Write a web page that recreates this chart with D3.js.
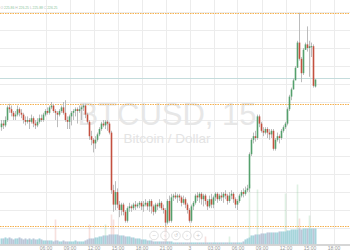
<!DOCTYPE html>
<html><head><meta charset="utf-8">
<script src="https://cdnjs.cloudflare.com/ajax/libs/d3/7.8.5/d3.min.js"></script>
<style>html,body{margin:0;padding:0;background:#fff;overflow:hidden}svg{display:block}</style>
</head><body><svg id="c" width="350" height="250"></svg>
<script>
// ---- DATA (BTCUSD, 15 min candles) ----
const open  = [223.6,223.8,223.7,224.0,224.7,224.6,224.4,224.2,224.3,224.6,224.4,224.3,224.0,223.9,224.0,223.9,224.1,223.8,223.7,223.9,
224.1,224.0,224.3,224.5,224.4,224.7,224.8,224.5,224.4,224.3,224.5,224.7,224.4,224.0,223.9,224.2,224.4,224.5,224.6,224.5,
224.6,224.7,224.8,224.3,223.9,223.1,222.9,222.7,222.9,223.2,223.5,223.8,223.7,223.9,223.8,223.3,220.1,219.3,220.0,219.3,
219.0,219.3,218.9,218.4,219.1,219.2,219.1,219.3,219.2,219.3,219.4,219.2,219.3,219.4,219.2,219.5,219.2,218.9,219.3,219.2,
219.4,219.1,219.0,218.3,219.5,218.4,219.7,219.8,219.7,219.8,219.7,219.4,219.6,219.3,219.0,218.4,219.2,219.4,219.8,219.7,
219.9,219.6,219.8,219.5,219.2,219.6,219.3,219.7,219.9,219.6,219.8,219.7,219.9,219.8,219.5,219.8,219.9,219.6,219.3,219.5,
219.8,220.0,219.9,220.1,220.2,222.1,222.9,223.1,223.0,224.2,223.8,223.4,223.3,223.5,223.3,223.2,223.4,222.4,222.9,223.1,
223.0,223.4,223.6,223.8,224.6,225.3,225.7,226.2,226.9,228.3,227.4,226.6,227.9,228.2,228.0,228.1,228.1,225.86];
const close = [223.8,223.7,224.0,224.7,224.6,224.4,224.2,224.3,224.6,224.4,224.3,224.0,223.9,224.0,223.9,224.1,223.8,223.7,223.9,224.1,
224.0,224.3,224.5,224.4,224.7,224.8,224.5,224.4,224.3,224.5,224.7,224.4,224.0,223.9,224.2,224.4,224.5,224.6,224.5,224.6,
224.7,224.8,224.3,223.9,223.1,222.9,222.7,222.9,223.2,223.5,223.8,223.7,223.9,223.8,223.3,220.1,219.3,220.0,219.3,219.0,
219.3,218.9,218.4,219.1,219.2,219.1,219.3,219.2,219.3,219.4,219.2,219.3,219.4,219.2,219.5,219.2,218.9,219.3,219.2,219.4,
219.1,219.0,218.3,219.5,218.4,219.7,219.8,219.7,219.8,219.7,219.4,219.6,219.3,219.0,218.4,219.2,219.4,219.8,219.7,219.9,
219.6,219.8,219.5,219.2,219.6,219.3,219.7,219.9,219.6,219.8,219.7,219.9,219.8,219.5,219.8,219.9,219.6,219.3,219.5,219.8,
220.0,219.9,220.1,220.2,222.1,222.9,223.1,223.0,224.2,223.8,223.4,223.3,223.5,223.3,223.2,223.4,222.4,222.9,223.1,223.0,
223.4,223.6,223.8,224.6,225.3,225.7,226.2,226.9,228.3,227.4,226.6,227.9,228.2,228.0,228.1,228.1,225.9,226.25];
const high  = [224.0,224.0,224.2,224.8,224.9,224.8,224.5,224.5,224.8,224.7,224.6,224.4,224.2,224.2,224.1,224.3,224.2,224.0,224.1,224.3,
224.3,224.4,224.6,224.7,224.8,225.0,224.9,224.6,224.5,224.6,224.8,225.0,225.1,224.2,224.3,224.5,224.6,224.7,224.7,224.8,
224.8,224.9,224.9,224.4,224.0,223.4,223.0,223.1,223.3,223.6,223.9,224.0,224.0,224.0,223.9,223.4,220.4,220.6,220.2,219.5,
219.4,219.4,219.0,219.2,219.4,219.3,219.4,219.5,219.4,219.5,219.5,219.5,219.6,219.5,219.6,219.6,219.3,219.4,219.4,219.6,
219.5,219.3,219.1,219.6,219.8,219.9,219.9,220.0,219.9,219.9,219.8,219.8,219.7,219.4,219.1,219.3,219.5,219.9,220.0,220.0,
220.0,219.9,219.9,219.6,219.8,219.9,219.8,220.0,220.0,219.9,220.0,220.0,220.1,219.9,220.0,220.1,220.0,219.7,219.6,219.9,
220.1,220.2,220.3,220.4,222.2,223.0,223.3,223.4,224.3,224.3,223.9,223.6,223.6,223.6,223.5,223.5,223.5,223.0,223.3,223.2,
223.5,223.7,223.9,224.7,225.4,225.8,226.3,227.0,228.4,229.95,227.5,228.0,228.3,229.2,228.4,228.3,228.2,226.25];
const low   = [223.4,223.5,223.6,223.9,224.4,224.2,224.0,224.0,224.2,224.2,224.1,223.8,223.7,223.8,223.5,223.8,223.6,223.5,223.6,223.8,
223.9,223.9,224.2,224.3,224.3,224.6,224.4,224.0,223.6,224.2,224.4,224.3,223.9,223.5,223.5,223.7,224.0,224.2,223.8,224.4,
224.0,224.5,224.1,223.8,222.9,222.6,222.2,222.4,222.8,223.1,223.4,223.6,223.5,223.4,223.2,219.9,218.9,219.0,219.1,218.6,
218.7,218.7,218.3,218.3,218.9,218.9,219.0,219.0,219.1,219.1,219.0,218.9,219.2,219.0,218.9,218.8,218.7,218.8,219.0,219.1,
219.0,218.8,218.1,218.2,218.3,218.3,219.5,219.6,219.4,219.5,219.2,219.3,219.1,218.8,218.3,218.3,219.0,219.3,219.5,219.4,
219.3,219.2,219.3,219.0,219.1,219.1,219.1,219.5,219.4,219.5,219.5,219.4,219.6,219.3,219.4,219.6,219.4,219.1,219.0,219.4,
219.7,219.7,219.8,220.0,220.0,222.0,222.7,222.8,222.9,223.6,223.3,223.1,223.2,223.0,222.9,223.0,222.3,222.3,222.8,222.7,
222.9,223.3,223.5,223.7,224.5,225.1,225.7,226.7,227.2,227.3,226.1,226.5,227.9,227.8,226.4,227.5,225.8,225.80];
// volume spikes (coloured by candle) and the blue volume average band
const volume = [6,6,7,6,7,6,5,6,6,7,6,5,6,5,6,5,6,5,5,6,
5,4,4,4,4,4,3,25,4,3,3,4,3,3,3,3,3,4,3,3,
3,3,4,5,20,6,6,7,7,8,8,9,20,9,10,30,25,10,10,9,
9,9,8,8,8,7,7,6,6,6,5,5,5,4,4,4,3,3,3,3,
3,3,18,3,3,3,2,2,2,2,2,2,2,2,2,2,2,2,2,2,
2,2,8,2,2,2,2,2,2,2,2,2,2,2,8,2,2,2,2,2,
2,3,5,6,60,9,9,10,55,10,11,11,11,12,12,12,12,12,12,13,
13,13,51,14,14,15,15,15,60,26,15,16,16,16,29,16,16,16];
const volumeAvg = [6,6,7,6,7,6,5,6,6,7,6,5,6,5,6,5,6,5,5,6,
5,4,4,4,4,4,3,4,4,3,3,4,3,3,3,3,3,4,3,3,
3,3,4,5,6,6,6,7,7,8,8,9,9,9,10,10,10,10,10,9,
9,9,8,8,8,7,7,6,6,6,5,5,5,4,4,4,3,3,3,3,
3,3,3,3,3,3,2,2,2,2,2,2,2,2,2,2,2,2,2,2,
2,2,2,2,2,2,2,2,2,2,2,2,2,2,2,2,2,2,2,2,
2,3,5,6,7,9,9,10,10,10,11,11,11,12,12,12,12,12,12,13,
13,13,13,14,14,15,15,15,15,16,15,16,16,16,16,16,16,16];
const firstCandle = new Date(2015, 6, 2, 0, 30);
const tickTimes = [[2,6],[2,9],[2,12],[2,15],[2,18],[2,21],[3,0],[3,3],[3,6],[3,9],[3,12],[3,15],[3,18]];
const tickLabels = ["06:00","09:00","12:00","15:00","18:00","21:00","3","03:00","06:00","09:00","12:00","15:00","18:00"];
const gridPrices = [218,219,220,221,222,223,224,225,226,227,228,229,230];
const levelPrices = [229.95, 224.9, 218.1];
const symbolTitle = "BTCUSD, 15";
const symbolDesc = "Bitcoin / Dollar";
const legendParts = [["O ","225.86"],[" H ","226.25"],[" L ","225.88"],[" C ","226.25"]];
const navIcons = ["\u2212","\u2039","\u21BA","\u203A","+"];

// ---- CHART ----
const svg = d3.select("#c");
const W = 350, H = 250, axisY = 244.5;
const x = d3.scaleTime()
  .domain([new Date(2015,6,2,6,0), new Date(2015,6,3,18,0)])
  .range([45.5, 333.5]);
const y = d3.scaleLinear().domain([218, 226]).range([228, 84]);
const vy = d3.scaleLinear().domain([0, 100]).range([axisY, axisY - 100]);
const tOf = i => new Date(firstCandle.getTime() + i * 15 * 60000);
const idx = d3.range(close.length);

svg.append("rect").attr("width", W).attr("height", H).attr("fill", "#fff");

// grid
const ticks = tickTimes.map(([d,h]) => new Date(2015,6,d,h,0));
svg.append("g").selectAll("line").data(ticks).join("line")
  .attr("x1", d => Math.round(x(d)) + 0.5).attr("x2", d => Math.round(x(d)) + 0.5)
  .attr("y1", 0).attr("y2", axisY).attr("stroke", "#ececec");
svg.append("g").selectAll("line").data(gridPrices).join("line")
  .attr("x1", 0).attr("x2", W)
  .attr("y1", d => Math.round(y(d)) + 0.5).attr("y2", d => Math.round(y(d)) + 0.5)
  .attr("stroke", "#ececec");

// watermark
svg.append("text").attr("x", 167).attr("y", 125).attr("text-anchor", "middle")
  .attr("font-family", "Liberation Sans, Arial, sans-serif").attr("font-size", 31)
  .attr("fill", "#e7e7e7").text(symbolTitle);
svg.append("text").attr("x", 167).attr("y", 143).attr("text-anchor", "middle")
  .attr("font-family", "Liberation Sans, Arial, sans-serif").attr("font-size", 13.5)
  .attr("fill", "#e4e4e4").text(symbolDesc);

// volume
svg.append("g").selectAll("rect").data(idx).join("rect")
  .attr("x", i => x(tOf(i)) - 1).attr("width", 2)
  .attr("y", i => vy(volumeAvg[i])).attr("height", i => axisY - vy(volumeAvg[i]))
  .attr("fill", "#a9d6f2").attr("opacity", 0.85);
svg.append("g").selectAll("rect").data(idx).join("rect")
  .attr("x", i => x(tOf(i)) - 0.8).attr("width", 1.6)
  .attr("y", i => vy(volume[i])).attr("height", i => axisY - vy(volume[i]))
  .attr("fill", i => close[i] >= open[i] ? "#6cbf7f" : "#d9776b").attr("opacity", 0.22);

// price level lines
svg.append("g").selectAll("line").data(levelPrices).join("line")
  .attr("x1", 0).attr("x2", W)
  .attr("y1", d => Math.round(y(d)) + 0.5).attr("y2", d => Math.round(y(d)) + 0.5)
  .attr("stroke", "#f5a83a").attr("stroke-dasharray", "1.5,1").attr("opacity", 0.9);
// last price line
svg.append("line").attr("x1", 0).attr("x2", W)
  .attr("y1", Math.round(y(close[close.length-1])) - 1.5).attr("y2", Math.round(y(close[close.length-1])) - 1.5)
  .attr("stroke", "#c4dcdc");

// candles
const g = svg.append("g");
g.selectAll("line").data(idx).join("line")
  .attr("x1", i => x(tOf(i))).attr("x2", i => x(tOf(i)))
  .attr("y1", i => y(high[i])).attr("y2", i => y(low[i]))
  .attr("stroke", "#b4b4b4").attr("stroke-width", 0.9);
g.selectAll("rect").data(idx).join("rect")
  .attr("x", i => x(tOf(i)) - 0.8).attr("width", 1.6)
  .attr("y", i => y(Math.max(open[i], close[i])))
  .attr("height", i => Math.max(1, Math.abs(y(open[i]) - y(close[i]))))
  .attr("fill", i => close[i] >= open[i] ? "#54a06c" : "#c4503f");

// nav buttons
const nav = svg.append("g");
nav.selectAll("circle").data(navIcons).join("circle")
  .attr("cx", (d,i) => 154 + i * 11).attr("cy", 235.5).attr("r", 4.3)
  .attr("fill", "#fff").attr("fill-opacity", 0.5).attr("stroke", "#d4d4d4").attr("stroke-width", 0.7);
nav.selectAll("text").data(navIcons).join("text")
  .attr("x", (d,i) => 154 + i * 11).attr("y", 237.3).attr("text-anchor", "middle")
  .attr("font-family", "DejaVu Sans, sans-serif").attr("font-size", 5).attr("fill", "#c8c8c8").text(d => d);

// time axis
svg.append("rect").attr("x", 0).attr("y", axisY).attr("width", W).attr("height", H - axisY).attr("fill", "#fff");
svg.append("line").attr("x1", 0).attr("x2", W).attr("y1", axisY + 0.5).attr("y2", axisY + 0.5)
  .attr("stroke", "#c9c9c9").attr("stroke-width", 1.5);
const xAxis = d3.axisBottom(x).tickValues(ticks).tickFormat((d,i) => tickLabels[i]).tickSize(0).tickPadding(0);
const ax = svg.append("g").attr("transform", `translate(0,${axisY + 1})`).call(xAxis);
ax.select(".domain").remove();
ax.selectAll("text").attr("font-family", "Liberation Sans, Arial, sans-serif").attr("font-size", 5)
  .attr("fill", "#9a9a9a").attr("dy", "0.85em");

// legend
const lg = svg.append("text").attr("x", 0.5).attr("y", 8.5)
  .attr("font-family", "Liberation Sans, Arial, sans-serif").attr("font-size", 3.6)
  .attr("textLength", 57).attr("lengthAdjust", "spacingAndGlyphs");
legendParts.forEach(([k,v]) => {
  lg.append("tspan").attr("fill", "#b8b8b8").text(k);
  lg.append("tspan").attr("fill", "#8cc59c").text(v);
});
</script></body></html>
